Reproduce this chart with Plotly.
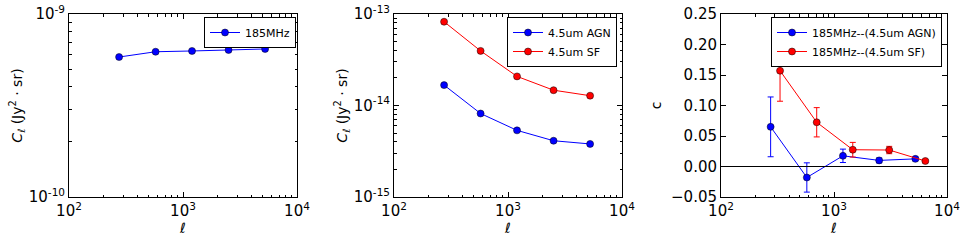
import plotly.graph_objects as go

# ---- data ----
ell = [275, 575, 1200, 2510, 5250]
ell_sf_shift = [333, 703, 1466, 3080, 6430]
cl_185 = [5.82e-10, 6.22e-10, 6.28e-10, 6.36e-10, 6.44e-10]
cl_agn = [1.67e-14, 8.17e-15, 5.35e-15, 4.12e-15, 3.80e-15]
cl_sf = [8.23e-14, 3.95e-14, 2.08e-14, 1.47e-14, 1.28e-14]
c_agn = [0.065, -0.018, 0.0175, 0.010, 0.0125]
c_agn_err = [0.049, 0.024, 0.011, 0.004, 0.003]
c_sf = [0.157, 0.0725, 0.0275, 0.027, 0.009]
c_sf_err = [0.050, 0.024, 0.012, 0.006, 0.002]

W, H = 969, 242
FONT = "DejaVu Sans"
BLUE = "#0000ff"
RED = "#ff0000"

def px(x):
    return x / W

def py(y):
    return 1 - y / H

ydom = [py(197), py(14)]
xdoms = [[px(69), px(297)], [px(394), px(622)], [px(721), px(947)]]

fig = go.Figure()

mk = lambda c: dict(size=7, color=c, line=dict(color="black", width=0.5))

fig.add_trace(go.Scatter(x=ell, y=cl_185, mode="lines+markers", name="185MHz",
                         line=dict(color=BLUE, width=1), marker=mk(BLUE),
                         xaxis="x", yaxis="y", legend="legend"))
fig.add_trace(go.Scatter(x=ell, y=cl_agn, mode="lines+markers", name="4.5um AGN",
                         line=dict(color=BLUE, width=1), marker=mk(BLUE),
                         xaxis="x2", yaxis="y2", legend="legend2"))
fig.add_trace(go.Scatter(x=ell, y=cl_sf, mode="lines+markers", name="4.5um SF",
                         line=dict(color=RED, width=1), marker=mk(RED),
                         xaxis="x2", yaxis="y2", legend="legend2"))
fig.add_trace(go.Scatter(x=ell, y=c_agn, mode="lines+markers", name="185MHz--(4.5um AGN)",
                         line=dict(color=BLUE, width=1), marker=mk(BLUE),
                         error_y=dict(type="data", array=c_agn_err, color=BLUE, thickness=1, width=3),
                         xaxis="x3", yaxis="y3", legend="legend3"))
fig.add_trace(go.Scatter(x=ell_sf_shift, y=c_sf, mode="lines+markers", name="185MHz--(4.5um SF)",
                         line=dict(color=RED, width=1), marker=mk(RED),
                         error_y=dict(type="data", array=c_sf_err, color=RED, thickness=1, width=3),
                         xaxis="x3", yaxis="y3", legend="legend3"))

minor_x = [v * d for d in (100, 1000) for v in range(2, 10)]

def xaxis(dom, anchor):
    return dict(domain=dom, anchor=anchor, type="log", range=[2, 4], automargin=False,
                tickvals=[100, 1000, 10000],
                ticktext=["10<sup>2</sup>", "10<sup>3</sup>", "10<sup>4</sup>"],
                ticks="inside", ticklen=5, tickcolor="black", mirror="allticks",
                showline=True, linecolor="black", linewidth=1, showgrid=False, zeroline=False,
                minor=dict(tickvals=minor_x, ticks="inside", ticklen=2.5, tickcolor="black", showgrid=False),
                title=dict(text="<i>ℓ</i>", font=dict(size=14), standoff=2),
                tickfont=dict(size=15, color="black"))

def ylog(dom, anchor, lo, hi):
    decs = list(range(lo, hi))
    minor_y = [v * 10 ** d for d in decs for v in range(2, 10)]
    tv = [10 ** d for d in range(lo, hi + 1)]
    return dict(domain=dom, anchor=anchor, type="log", range=[lo, hi], automargin=False,
                tickvals=tv,
                ticktext=["10<sup>%d</sup>" % d for d in range(lo, hi + 1)],
                ticks="inside", ticklen=5, tickcolor="black", mirror="allticks",
                showline=True, linecolor="black", linewidth=1, showgrid=False, zeroline=False,
                minor=dict(tickvals=minor_y, ticks="inside", ticklen=2.5, tickcolor="black", showgrid=False),
                title=dict(text="<i>C</i><sub><i>ℓ</i></sub> (Jy<sup>2</sup> · sr)", font=dict(size=14), standoff=2),
                tickfont=dict(size=15, color="black"))

fig.update_layout(
    width=W, height=H, margin=dict(l=0, r=0, t=0, b=0),
    paper_bgcolor="white", plot_bgcolor="white",
    font=dict(family=FONT, color="black"),
    xaxis=xaxis(xdoms[0], "y"),
    xaxis2=xaxis(xdoms[1], "y2"),
    xaxis3=xaxis(xdoms[2], "y3"),
    yaxis=ylog(ydom, "x", -10, -9),
    yaxis2=ylog(ydom, "x2", -15, -13),
    yaxis3=dict(domain=ydom, anchor="x3", range=[-0.05, 0.25], automargin=False,
                tickvals=[-0.05, 0, 0.05, 0.10, 0.15, 0.20, 0.25], tickformat=".2f",
                ticks="inside", ticklen=5, tickcolor="black", mirror="allticks",
                showline=True, linecolor="black", linewidth=1, showgrid=False, zeroline=False,
                title=dict(text="c", font=dict(size=14), standoff=6),
                tickfont=dict(size=15, color="black")),
    legend=dict(x=px(296), y=py(17), xanchor="right", yanchor="top",
                bordercolor="black", borderwidth=1, bgcolor="white",
                font=dict(size=11), tracegroupgap=0),
    legend2=dict(x=px(617), y=py(17), xanchor="right", yanchor="top",
                 bordercolor="black", borderwidth=1, bgcolor="white",
                 font=dict(size=11), tracegroupgap=0),
    legend3=dict(x=px(942), y=py(17), xanchor="right", yanchor="top",
                 bordercolor="black", borderwidth=1, bgcolor="white",
                 font=dict(size=11), tracegroupgap=0),
    showlegend=True,
)

fig.add_shape(type="line", xref="x3 domain", yref="y3", x0=0, x1=1, y0=0, y1=0,
              line=dict(color="black", width=1))

fig.write_html("out.html", config={"displayModeBar": False},
               post_script="document.body.style.margin='0';document.body.style.overflow='hidden';")
